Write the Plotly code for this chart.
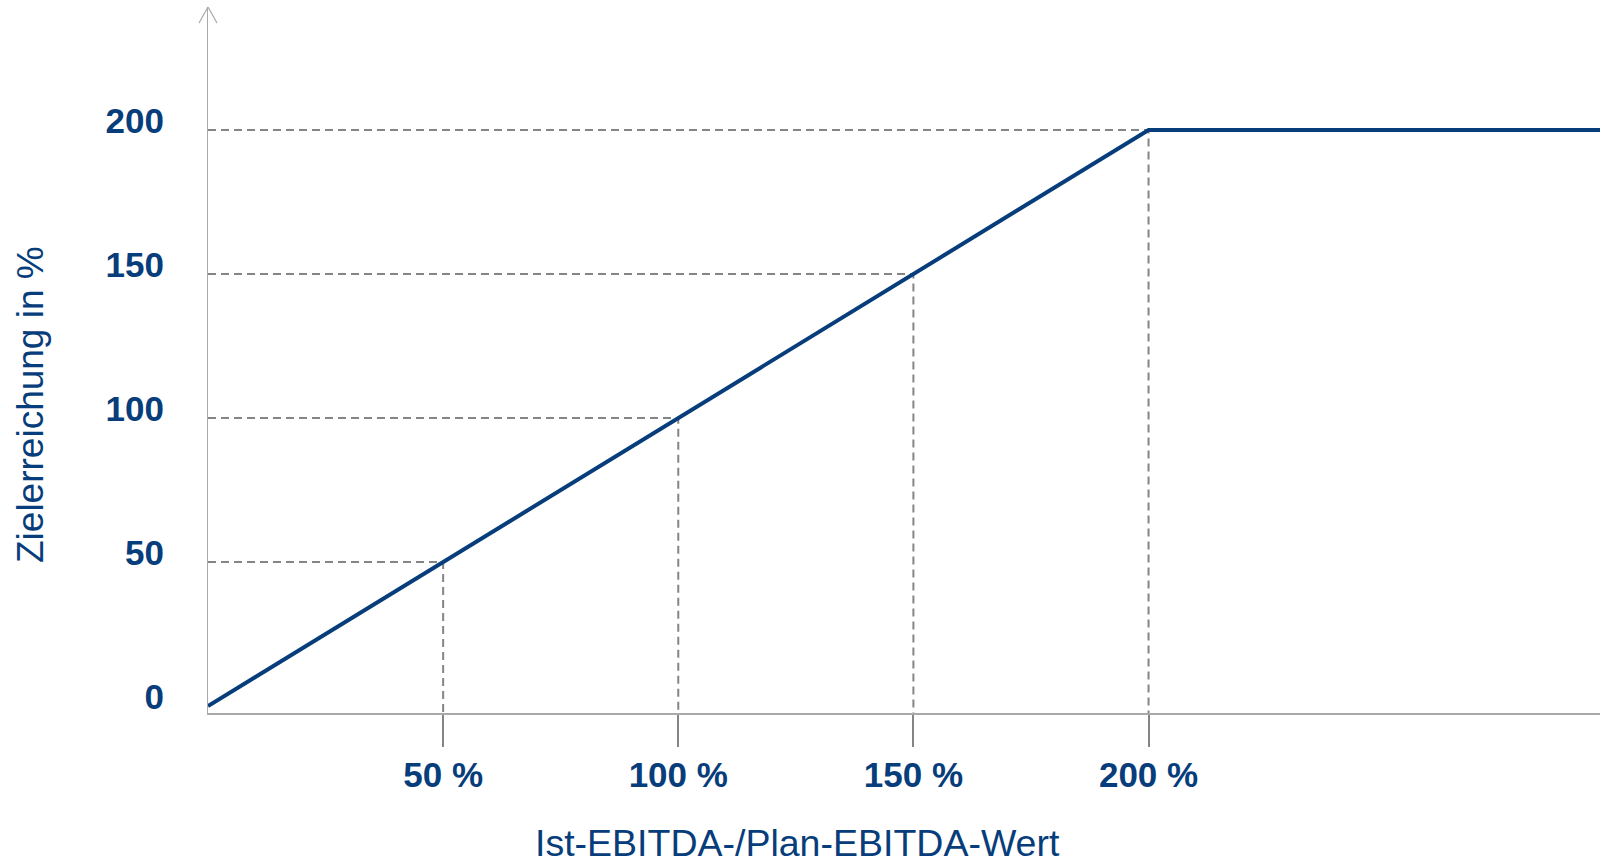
import plotly.graph_objects as go

# ---- data ----
curve_x = [0, 200, 300]          # Ist-EBITDA / Plan-EBITDA in %
curve_y = [0, 200, 200]          # Zielerreichung in %
guide_x = [50, 100, 150, 200]
guide_y = [50, 100, 150, 200]
x_tick_vals = [50, 100, 150, 200]
x_tick_text = ["50 %", "100 %", "150 %", "200 %"]
y_tick_vals = [0, 50, 100, 150, 200]
y_tick_text = ["0", "50", "100", "150", "200"]
x_title = "Ist-EBITDA-/Plan-EBITDA-Wert"
y_title = "Zielerreichung in %"

# ---- style ----
BLUE = "#073d7b"
DASH_GRAY = "#858585"
AXIS_GRAY = "#a9a9a9"
FONT = "Liberation Sans, Arial, sans-serif"

W, H = 1600, 866
L, R, T, B = 208, 0, 7, 153
X_RANGE = [0, 296]
Y_RANGE = [-2.4, 242.7]
PW, PH = W - L - R, H - T - B

def px_to_paper(px, py):
    return (px - L) / PW, (H - B - py) / PH

fig = go.Figure()

# dashed guide lines
for gx, gy in zip(guide_x, guide_y):
    fig.add_trace(go.Scatter(
        x=[0, gx, gx], y=[gy, gy, Y_RANGE[0]],
        mode="lines",
        line=dict(color=DASH_GRAY, width=2, dash="8px,5px"),
        hoverinfo="skip", showlegend=False,
    ))

# main curve
fig.add_trace(go.Scatter(
    x=curve_x, y=curve_y, mode="lines",
    line=dict(color=BLUE, width=4),
    showlegend=False,
))

# arrow head on y axis (open chevron)
for x0 in (-9, 9):
    fig.add_shape(
        type="line", xref="paper", yref="paper",
        xsizemode="pixel", xanchor=0, x0=x0, x1=0,
        ysizemode="pixel", yanchor=1, y0=-16, y1=0,
        line=dict(color=AXIS_GRAY, width=1.2),
    )

xt_x, xt_y = px_to_paper(797, 865)
yt_x, yt_y = px_to_paper(30, 405)
fig.add_annotation(text=x_title, xref="paper", yref="paper", x=xt_x, y=xt_y,
                   xanchor="center", yanchor="bottom", showarrow=False,
                   borderpad=0,
                   font=dict(family=FONT, size=37.5, color=BLUE))
fig.add_annotation(text=y_title, xref="paper", yref="paper", x=yt_x, y=yt_y,
                   xanchor="center", yanchor="middle", showarrow=False, textangle=-90,
                   font=dict(family=FONT, size=37, color=BLUE))

fig.update_layout(
    width=W, height=H,
    margin=dict(l=L, r=R, t=T, b=B, pad=0),
    paper_bgcolor="white", plot_bgcolor="white",
    showlegend=False,
    xaxis=dict(
        range=X_RANGE, showgrid=False, zeroline=False,
        showline=True, linecolor=AXIS_GRAY, linewidth=1.5,
        tickmode="array", tickvals=x_tick_vals, ticktext=x_tick_text,
        ticks="outside", ticklen=32, tickwidth=2, tickcolor=DASH_GRAY,
        ticklabelstandoff=-2,
        tickfont=dict(family=FONT, size=35, color=BLUE, weight="bold"),
    ),
    yaxis=dict(
        range=Y_RANGE, showgrid=False, zeroline=False,
        showline=True, linecolor=AXIS_GRAY, linewidth=1.2,
        tickmode="array", tickvals=y_tick_vals, ticktext=y_tick_text,
        ticks="", ticklabelstandoff=36, ticklabelshift=-9,
        tickfont=dict(family=FONT, size=35, color=BLUE, weight="bold"),
    ),
)

fig.write_html("out.html")
